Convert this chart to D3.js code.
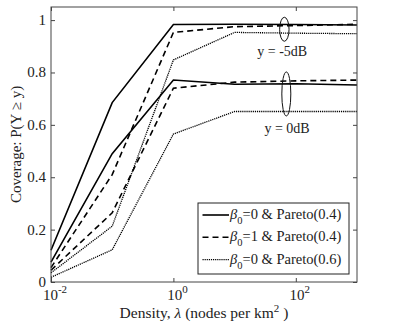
<!DOCTYPE html>
<html>
<head>
<meta charset="utf-8">
<script src="https://cdn.jsdelivr.net/npm/d3@7"></script>
<style>
  body { margin: 0; background: #fff; }
</style>
</head>
<body>
<div id="chart"></div>
<script>
// data
var density = [0.01, 0.1, 1, 10, 100, 1000];
var solid5  = [0.121, 0.685, 0.983, 0.984, 0.983, 0.981];
var dashed5 = [0.055, 0.41, 0.953, 0.975, 0.979, 0.984];
var dotted5 = [0.035, 0.213, 0.848, 0.953, 0.950, 0.948];
var solid0  = [0.076, 0.49, 0.771, 0.755, 0.757, 0.752];
var dashed0 = [0.045, 0.264, 0.74, 0.763, 0.768, 0.771];
var dotted0 = [0.018, 0.123, 0.565, 0.651, 0.651, 0.651];
var xTicks = [0.01, 1, 100];
var xTickExp = ["-2", "0", "2"];
var yTicks = [0, 0.2, 0.4, 0.6, 0.8, 1];
var legendLabels = ["=0 & Pareto(0.4)", "=1 & Pareto(0.4)", "=0 & Pareto(0.6)"];

// dimensions
var margin = {top: 7, right: 38, bottom: 47, left: 51},
    width = 395 - margin.left - margin.right,
    height = 329 - margin.top - margin.bottom;

var x = d3.scaleLog().domain([0.01, 1000]).range([0, width]);
var y = d3.scaleLinear().domain([0, 1.05]).range([height, 0]);

var root = d3.select("#chart").append("svg")
    .attr("width", 395).attr("height", 329)
    .style("font-family", "'Liberation Serif'");
var svg = root.append("g")
    .attr("transform", "translate(" + margin.left + "," + margin.top + ")");

var styles = [
  {dash: null, w: 1.6},
  {dash: "6,4", w: 1.6},
  {dash: "1.2,0.9", w: 1.3}
];

var series = [
  {v: solid5, s: 0}, {v: dashed5, s: 1}, {v: dotted5, s: 2},
  {v: solid0, s: 0}, {v: dashed0, s: 1}, {v: dotted0, s: 2}
];

var line = d3.line()
    .x(function(d, i) { return x(density[i]); })
    .y(function(d) { return y(d); });

series.forEach(function(sr) {
  svg.append("path")
      .attr("d", line(sr.v))
      .attr("fill", "none")
      .attr("stroke", "#000")
      .attr("stroke-width", styles[sr.s].w)
      .attr("stroke-dasharray", styles[sr.s].dash);
});

// box with inner ticks on all sides
var axisColor = "#444";
svg.append("rect")
    .attr("width", width).attr("height", height)
    .attr("fill", "none").attr("stroke", axisColor).attr("stroke-width", 1);

function inner(g) {
  g.select(".domain").remove();
  g.selectAll("line").attr("stroke", axisColor);
}
svg.append("g")
    .attr("transform", "translate(0," + height + ")")
    .call(d3.axisBottom(x).tickValues(xTicks).tickSize(-4).tickFormat(""))
    .call(inner);
svg.append("g")
    .call(d3.axisTop(x).tickValues(xTicks).tickSize(-4).tickFormat(""))
    .call(inner);
svg.append("g")
    .call(d3.axisLeft(y).tickValues(yTicks).tickSize(-4).tickFormat(""))
    .call(inner);
svg.append("g")
    .attr("transform", "translate(" + width + ",0)")
    .call(d3.axisRight(y).tickValues(yTicks).tickSize(-4).tickFormat(""))
    .call(inner);

// tick labels
svg.selectAll(".ylab").data(yTicks).enter().append("text")
    .attr("x", -5).attr("y", function(d) { return y(d) + 5; })
    .attr("text-anchor", "end").attr("font-size", 15).attr("fill", "#222")
    .text(function(d) { return d === 0 || d === 1 ? d : d.toFixed(1); });

xTicks.forEach(function(t, i) {
  var tx = svg.append("text")
      .attr("x", x(t) + 4).attr("y", height + 17.5)
      .attr("text-anchor", "middle").attr("font-size", 15).attr("fill", "#222");
  tx.append("tspan").text("10");
  tx.append("tspan").attr("dy", -7).attr("font-size", 11).text(xTickExp[i]);
});

// axis titles
var xt = svg.append("text")
    .attr("x", width / 2).attr("y", height + 35.5)
    .attr("text-anchor", "middle").attr("font-size", 15.5).attr("fill", "#222");
xt.append("tspan").text("Density, ");
xt.append("tspan").attr("font-style", "italic").text("λ");
xt.append("tspan").text(" (nodes per km");
xt.append("tspan").attr("dy", -6).attr("font-size", 11).text("2");
xt.append("tspan").attr("dy", 6).text(" )");

svg.append("text")
    .attr("transform", "translate(-30," + (height / 2) + ") rotate(-90)")
    .attr("text-anchor", "middle").attr("font-size", 15).attr("fill", "#222")
    .text("Coverage: P(Y ≥ y)");

// annotations
svg.append("ellipse")
    .attr("cx", x(65)).attr("cy", y(0.965))
    .attr("rx", 4.7).attr("ry", 12)
    .attr("fill", "none").attr("stroke", "#111").attr("stroke-width", 1);
svg.append("text")
    .attr("x", x(60)).attr("y", y(0.863))
    .attr("text-anchor", "middle").attr("font-size", 14).attr("fill", "#222")
    .text("y = -5dB");
svg.append("ellipse")
    .attr("cx", x(70)).attr("cy", y(0.718))
    .attr("rx", 4.5).attr("ry", 22)
    .attr("fill", "none").attr("stroke", "#111").attr("stroke-width", 1);
svg.append("text")
    .attr("x", x(72)).attr("y", y(0.57))
    .attr("text-anchor", "middle").attr("font-size", 14).attr("fill", "#222")
    .text("y = 0dB");

// legend
var lg = svg.append("g").attr("transform", "translate(" + (198 - margin.left) + "," + (203 - margin.top) + ")");
lg.append("rect")
    .attr("width", 151).attr("height", 71)
    .attr("fill", "#fff").attr("stroke", "#222").attr("stroke-width", 1);
legendLabels.forEach(function(lab, i) {
  var ly = 12 + i * 22.3;
  lg.append("line")
      .attr("x1", 4.5).attr("x2", 31).attr("y1", ly).attr("y2", ly)
      .attr("stroke", "#000")
      .attr("stroke-width", styles[i].w)
      .attr("stroke-dasharray", styles[i].dash);
  var t = lg.append("text").attr("x", 32).attr("y", ly + 4).attr("font-size", 14.5).attr("fill", "#222");
  t.append("tspan").attr("font-style", "italic").text("β");
  t.append("tspan").attr("dy", 5).attr("font-size", 10.5).text("0");
  t.append("tspan").attr("dy", -5).text(lab);
});
</script>
</body>
</html>
